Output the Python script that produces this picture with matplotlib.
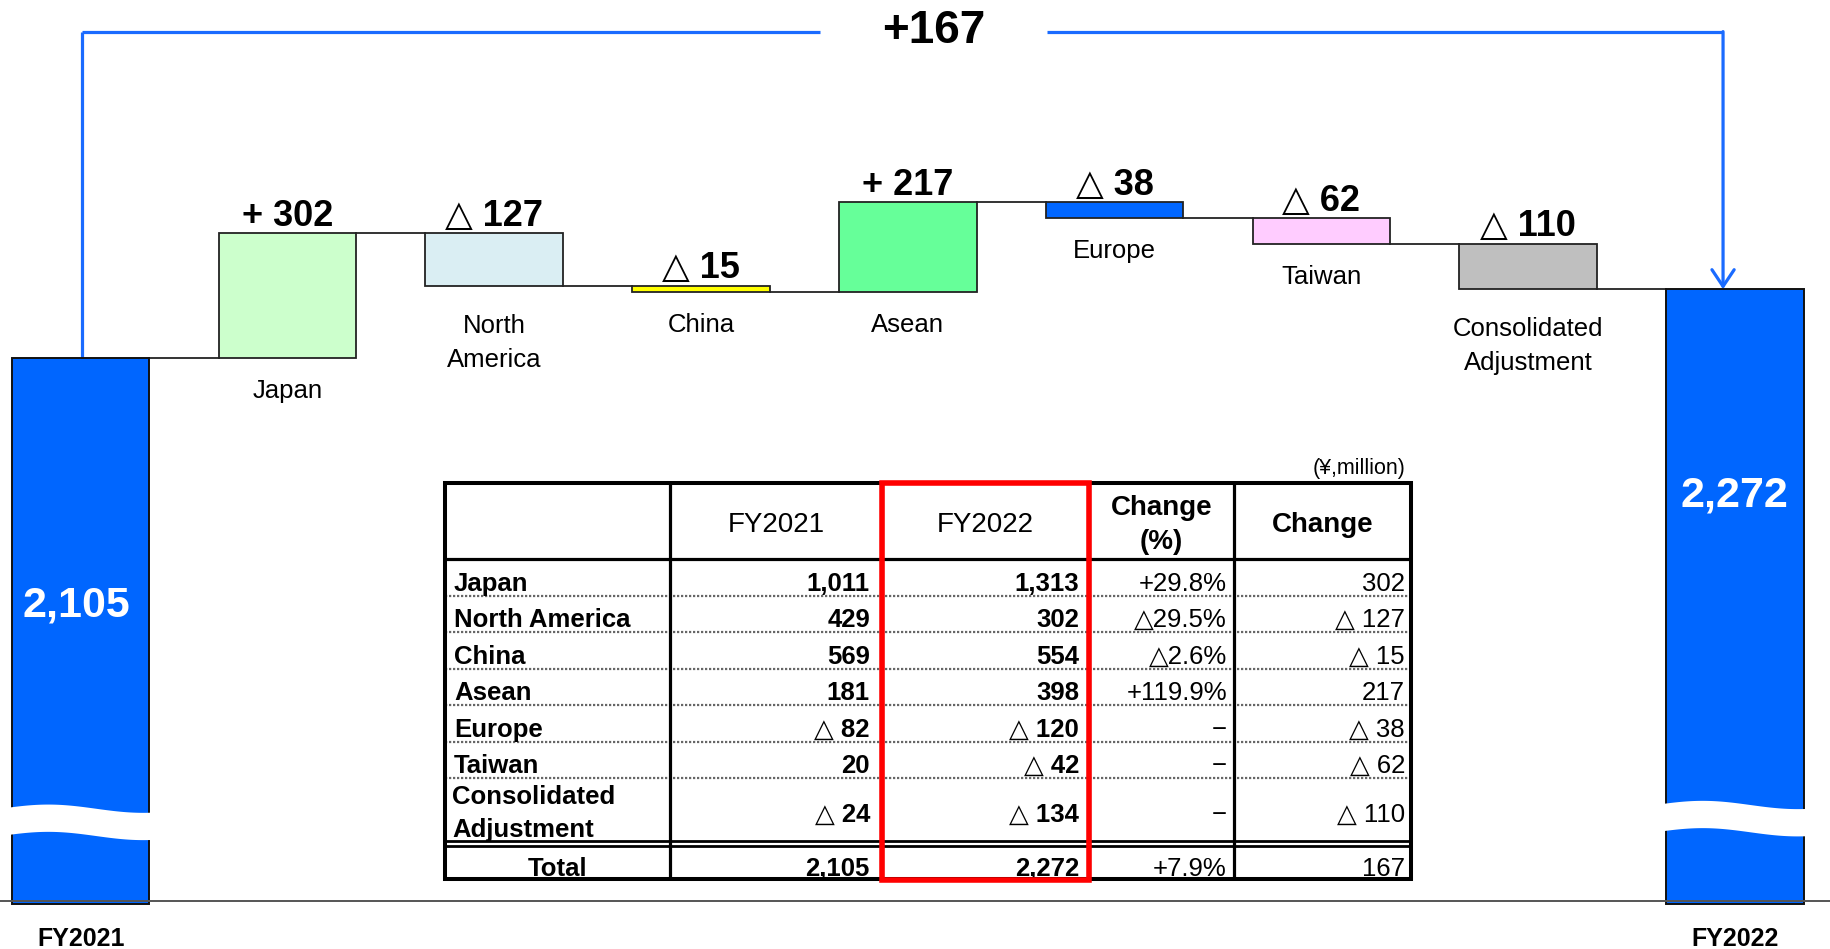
import numpy as np
import matplotlib
matplotlib.use('Agg')
import matplotlib.pyplot as plt
from matplotlib.patches import Rectangle

plt.rcParams['font.family'] = ['Liberation Sans', 'DejaVu Sans']

# ---------------- data ----------------
start_label = 'FY2021'
end_label = 'FY2022'
start_total = 2105
end_total = 2272
regions = ['Japan', 'North\nAmerica', 'China', 'Asean', 'Europe', 'Taiwan',
           'Consolidated\nAdjustment']
region_colors = ['#CCFFCC', '#DAEEF3', '#FFFF00', '#66FF99', '#0066FF',
                 '#FFCCFF', '#BFBFBF']

table_rows = ['Japan', 'North America', 'China', 'Asean', 'Europe', 'Taiwan',
              'Consolidated\nAdjustment']
fy2021_vals = [1011, 429, 569, 181, -82, 20, -24]
fy2022_vals = [1313, 302, 554, 398, -120, -42, -134]
change_pct = [29.8, -29.5, -2.6, 119.9, None, None, None]
total_pct = 7.9
table_header = ['', 'FY2021', 'FY2022', 'Change\n(%)', 'Change']
unit_note = '(¥,million)'

changes = [b - a for a, b in zip(fy2021_vals, fy2022_vals)]

TRI = '\u25b3'


def fmt_amount(v):
    return f'{TRI} {abs(v):,}' if v < 0 else f'{v:,}'


def fmt_bar(v):
    return f'+ {v:,}' if v >= 0 else f'{TRI} {abs(v):,}'


def fmt_pct(p):
    if p is None:
        return '\u2212'
    return f'+{p:.1f}%' if p >= 0 else f'{TRI}{abs(p):.1f}%'


# ---------------- figure ----------------
fig = plt.figure(figsize=(18.31, 9.49), dpi=100)
ax = fig.add_axes([0, 0, 1, 1])
ax.set_xlim(-0.39, 8.464)
ax.set_ylim(676.5, 2971.5)
ax.axis('off')

BLUE = '#0066FF'
LINE_BLUE = '#1A6BFF'
W = 0.665
FLOOR = 786
BASE = 793
Y_TOP = 2895

n = len(regions)
levels = start_total + np.cumsum([0] + changes)

# baseline
ax.axhline(BASE, color='#555555', lw=1.4, zorder=5)

# total bars
ax.bar([0, n + 1], [start_total - FLOOR, end_total - FLOOR], bottom=FLOOR,
       width=W, color=BLUE, edgecolor='#111111', linewidth=1.4, zorder=3)

# break waves
t = np.linspace(0, 1, 200)
for xc, yc in zip([0, n + 1], [984, 993]):
    xw = xc - W / 2 - 0.012 + t * (W + 0.024)
    d = 10 * np.sin(2 * np.pi * 0.75 * t + 0.3)
    ax.fill_between(xw, yc + d - 33, yc + d + 33, color='white', zorder=4,
                    linewidth=0)

# big value labels
ax.text(-0.023, 1508, f'{start_total:,}', color='white', fontsize=31,
        fontweight='bold', ha='center', va='center', zorder=6)
ax.text(7.995, 1774, f'{end_total:,}', color='white', fontsize=31,
        fontweight='bold', ha='center', va='center', zorder=6)

# region bars
for i, (c, col) in enumerate(zip(changes, region_colors)):
    lo = min(levels[i], levels[i + 1])
    hi = max(levels[i], levels[i + 1])
    ax.bar(i + 1, abs(c), bottom=lo, width=W, color=col, edgecolor='#222222',
           linewidth=1.3, zorder=3)
    ax.annotate(fmt_bar(c), xy=(i + 1, hi), xytext=(0, 5.5),
                textcoords='offset points', ha='center', va='baseline',
                fontsize=26, fontweight='bold')
    off = -20 if '\n' in regions[i] else -15
    ax.annotate(regions[i], xy=(i + 1, lo), xytext=(0, off),
                textcoords='offset points', ha='center', va='top',
                fontsize=18.5, linespacing=1.55)

# connectors
for k in range(n + 1):
    ax.plot([k + W / 2, k + 1 - W / 2], [levels[k], levels[k]],
            color='#333333', lw=1.4, zorder=2)

# bottom labels
for xc, lab in zip([0, n + 1], [start_label, end_label]):
    ax.annotate(lab, xy=(xc, BASE), xytext=(0, -32.5),
                textcoords='offset points', ha='center', va='baseline',
                fontsize=18, fontweight='bold')

# total change connector
ax.plot([0.005, 0.005], [start_total, Y_TOP], color=LINE_BLUE, lw=2.3,
        zorder=2, solid_capstyle='butt')
ax.plot([0.005, 3.577], [Y_TOP, Y_TOP], color=LINE_BLUE, lw=2.3, zorder=2,
        solid_capstyle='butt')
ax.plot([4.675, 7.942], [Y_TOP, Y_TOP], color=LINE_BLUE, lw=2.3, zorder=2,
        solid_capstyle='butt')
ax.annotate('', xy=(7.942, end_total), xytext=(7.942, Y_TOP),
            arrowprops=dict(arrowstyle='->,head_length=0.6,head_width=0.4',
                            color=LINE_BLUE, lw=2.3, mutation_scale=20,
                            shrinkA=0, shrinkB=0), zorder=2)
ax.text(4.127, 2868, f'+{end_total - start_total}', ha='center',
        va='baseline', fontsize=33, fontweight='bold')

# ---------------- table ----------------
col_w = [225, 212, 207, 145, 177]
row_h = [76] + [36.5] * 6 + [62.3]
gap = 5
total_h = 33.3
TW = sum(col_w)
TH = sum(row_h) + gap + total_h

FW, FH = 1831, 949
tx0, ty0 = 445, 483.3
tax = fig.add_axes([tx0 / FW, 1 - (ty0 + TH) / FH, TW / FW, TH / FH])
tax.set_xlim(0, TW)
tax.set_ylim(TH, 0)
tax.axis('off')
tax.patch.set_visible(False)

col_x = np.concatenate([[0], np.cumsum(col_w)])
row_y = np.concatenate([[0], np.cumsum(row_h)])
y_total_top = row_y[-1] + gap

# dotted row lines
for y in row_y[2:-1]:
    tax.plot([0, TW], [y, y], color='#666666', lw=1.6,
             linestyle=(0, (1, 0.8)), zorder=2)
# header bottom
tax.plot([0, TW], [row_y[1], row_y[1]], color='black', lw=2.3, zorder=3)
# double line
tax.plot([0, TW], [row_y[-1], row_y[-1]], color='black', lw=2.0, zorder=3)
tax.plot([0, TW], [y_total_top, y_total_top], color='black', lw=2.0, zorder=3)
# inner vertical lines
for x in col_x[1:-1]:
    tax.plot([x, x], [0, TH], color='black', lw=2.3, zorder=3)
# outer border
tax.add_patch(Rectangle((0, 0), TW, TH, fill=False, edgecolor='black',
                        lw=2.9, zorder=4, clip_on=False))
# red highlight
tax.add_patch(Rectangle((col_x[2], 0), col_w[2], TH + 1.5, fill=False,
                        edgecolor='#FF0000', lw=4.0, zorder=5, clip_on=False))

FS = 18.5
FS_H = 20
# header
hy = row_h[0] / 2 + 4
for j, h in enumerate(table_header):
    if not h:
        continue
    cx = (col_x[j] + col_x[j + 1]) / 2
    wt = 'bold' if j >= 3 else 'normal'
    tax.text(cx, hy, h, ha='center', va='center', fontsize=FS_H,
             fontweight=wt, linespacing=1.4)

# body rows
pad_l = 9
pads_r = [0, 12, 10, 7, 6]
for i, name in enumerate(table_rows):
    top = row_y[i + 1]
    bot = row_y[i + 2]
    if '\n' in name:
        l1, l2 = name.split('\n')
        tax.text(pad_l - 2, top + 25.6, l1, ha='left', va='baseline',
                 fontsize=FS, fontweight='bold')
        tax.text(pad_l - 2, bot - 3.3, l2, ha='left', va='baseline',
                 fontsize=FS, fontweight='bold')
        yb = bot - 18.3
    else:
        yb = bot - 5
        tax.text(pad_l, yb, name, ha='left', va='baseline', fontsize=FS,
                 fontweight='bold')
    vals = [fmt_amount(fy2021_vals[i]), fmt_amount(fy2022_vals[i]),
            fmt_pct(change_pct[i]), fmt_amount(changes[i])]
    for j, s in enumerate(vals, start=1):
        wt = 'bold' if j <= 2 else 'normal'
        tax.text(col_x[j + 1] - pads_r[j], yb, s, ha='right', va='baseline',
                 fontsize=FS, fontweight=wt)

# total row
yb = TH - 3.3
tax.text((col_x[0] + col_x[1]) / 2, yb, 'Total', ha='center', va='baseline',
         fontsize=FS, fontweight='bold')
tot_vals = [f'{start_total:,}', f'{end_total:,}', fmt_pct(total_pct),
            fmt_amount(end_total - start_total)]
for j, s in enumerate(tot_vals, start=1):
    wt = 'bold' if j <= 2 else 'normal'
    tax.text(col_x[j + 1] - pads_r[j], yb, s, ha='right', va='baseline',
             fontsize=FS, fontweight=wt)

# unit note
tax.text(TW - 5, -15, unit_note, ha='right', va='center', fontsize=15.5)

fig.savefig('out.png', dpi=100)
